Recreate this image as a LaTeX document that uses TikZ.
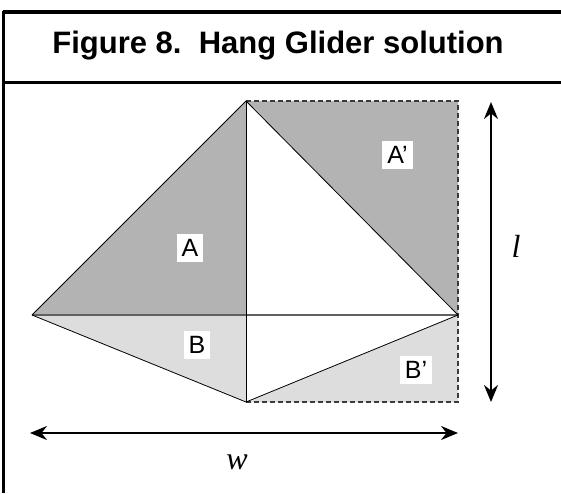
\documentclass[tikz,border=0pt]{standalone}
\usepackage{fontspec}
\setmainfont{Liberation Sans}
\newfontfamily\timesfont{Liberation Serif}
\usetikzlibrary{arrows.meta}
\definecolor{darkfill}{HTML}{B3B3B3}
\definecolor{lightfill}{HTML}{DDDDDD}
\definecolor{dashcol}{HTML}{3A3A3A}
\definecolor{midline}{HTML}{606060}
\tikzset{
  edge/.style={line width=0.8pt, black},
  dashedge/.style={line width=1.1pt, dashcol, dash pattern=on 5pt off 3pt},
  lbl/.style={fill=white, inner sep=5pt, font=\fontsize{25}{25}\selectfont},
  varlbl/.style={font=\timesfont\itshape\fontsize{32}{32}\selectfont, inner sep=0pt},
  dimarrow/.style={line width=2pt, {Stealth[length=17pt,width=14pt]}-{Stealth[length=17pt,width=14pt]}},
  frameline/.style={line width=2.5pt, black}
}
\begin{document}
\begin{tikzpicture}[x=1pt,y=-1pt]
\useasboundingbox (0,0) rectangle (561,493);
% frame
\draw[line width=3.5pt] (2.5,12) -- (561,12);
\draw[frameline] (3.5,10.5) -- (3.5,493);
\draw[frameline] (3.5,82.5) -- (561,82.5);
\node (title) at (278,46) {\fontsize{31}{31}\selectfont\bfseries Figure 8.\ \ Hang Glider solution};
% vertices
\coordinate (T) at (246,101);
\coordinate (L) at (32,315);
\coordinate (R) at (458,315);
\coordinate (Bt) at (246,402);
\coordinate (C) at (246,315);
\coordinate (TR) at (458,101);
\coordinate (BR) at (458,402);
% fills
\fill[darkfill] (T) -- (L) -- (C) -- cycle;
\fill[lightfill] (L) -- (C) -- (Bt) -- cycle;
\fill[darkfill] (T) -- (TR) -- (R) -- cycle;
\fill[lightfill] (R) -- (BR) -- (Bt) -- cycle;
% lines
\draw[dashedge] (T) -- (TR) -- (BR) -- (Bt);
\draw[line width=1.5pt, midline] (L) -- (R);
\draw[edge] (T) -- (L);
\draw[edge] (T) -- (R);
\draw[edge] (T) -- (Bt);
\draw[edge] (L) -- (Bt);
\draw[edge] (Bt) -- (R);
% labels
\node[lbl] (A) at (190,248) {A};
\node[lbl] (Ap) at (397.5,155) {A’};
\node[lbl] (B) at (197,345) {B};
\node[lbl] (Bp) at (416,370) {B’};
% dimension arrows
\coordinate (vtop) at (491,102);
\coordinate (vbot) at (491,402);
\coordinate (hl) at (30,433);
\coordinate (hr) at (458,433);
\draw[dimarrow] (vtop) -- (vbot);
\draw[dimarrow] (hl) -- (hr);
\node[varlbl] (l) at (516,246) {l};
\node[varlbl] (w) at (237,462) {w};
\end{tikzpicture}
\end{document}
